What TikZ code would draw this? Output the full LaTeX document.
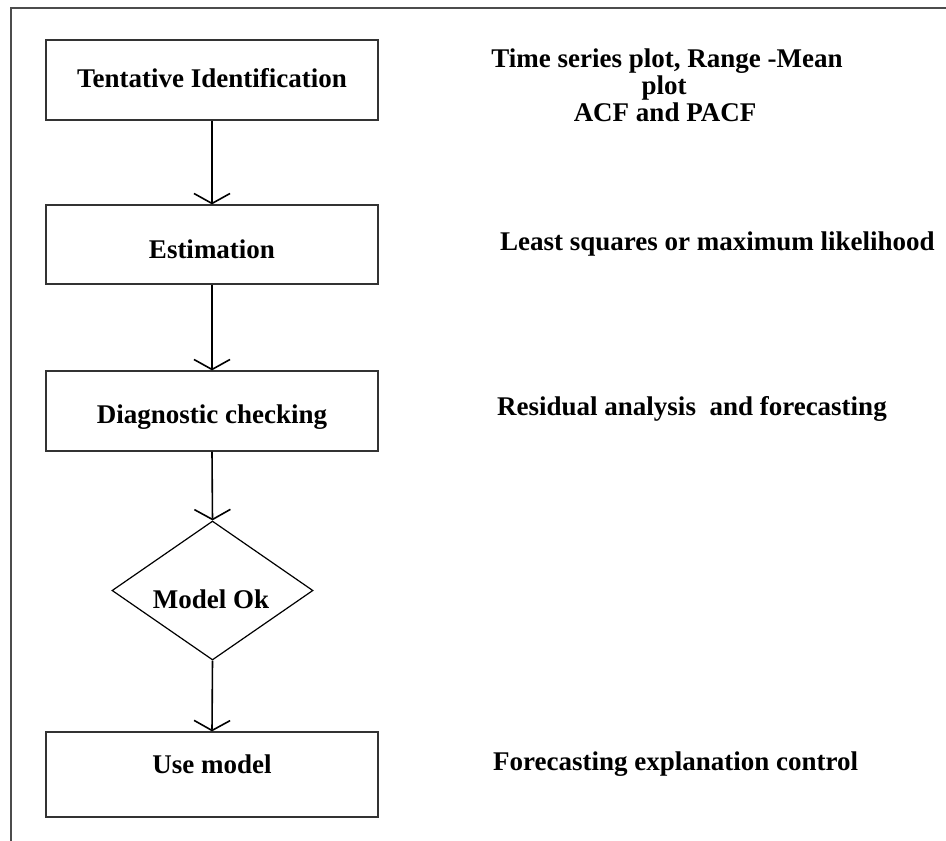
\documentclass[tikz,border=0pt]{standalone}
\usepackage{fontspec}
\setmainfont{Liberation Serif}
\usetikzlibrary{shapes.geometric,arrows.meta}
\begin{document}
\begin{tikzpicture}[x=1pt,y=-1pt,
  every node/.style={font=\fontsize{27}{27.5}\selectfont\bfseries},
  box/.style={draw=black!80,line width=1.2pt,rectangle,minimum width=332pt,inner sep=0pt},
  decision/.style={draw=black,line width=1.2pt,diamond,minimum width=201pt,minimum height=139pt,inner sep=0pt},
  lbl/.style={anchor=base,inner sep=0pt},
  note/.style={anchor=base west,inner sep=0pt},
  flow/.style={line width=1.6pt,-{Straight Barb[length=10pt,width=36pt]}},
  frameline/.style={draw=black!70,line width=1.2pt}]
  % page size
  \useasboundingbox (0,0) rectangle (946,841);
  % frame along the top and left edges
  \coordinate (fTL) at (11,8);
  \coordinate (fTR) at (946,8);
  \coordinate (fBL) at (11,841);
  \draw[frameline] (fTR) -- (fTL) -- (fBL);

  % flow chart boxes
  \node[box,minimum height=80pt] (tent) at (212,80) {};
  \node[box,minimum height=79pt] (est) at (212,244.5) {};
  \node[box,minimum height=80pt] (diag) at (212,411) {};
  \node[decision] (ok) at (212.5,590.5) {};
  \node[box,minimum height=85pt] (use) at (212,774.5) {};

  % box captions
  \node[lbl] (tentT) at (212,87) {Tentative Identification};
  \node[lbl] (estT) at (212,258) {Estimation};
  \node[lbl] (diagT) at (212,423) {Diagnostic checking};
  \node[lbl] (okT) at (211,608) {Model Ok};
  \node[lbl] (useT) at (212,773) {Use model};

  % connectors
  \draw[flow] (tent.south) -- (est.north);
  \draw[flow] (est.south) -- (diag.north);
  \draw[flow] (diag.south) -- (ok.north);
  \draw[flow] (ok.south) -- (use.north);

  % notes on the right
  \node[lbl] (n1a) at (667,67) {Time series plot, Range -Mean};
  \node[lbl] (n1b) at (664,94) {plot};
  \node[lbl] (n1c) at (665,121) {ACF and PACF};
  \node[note] (n2) at (500,250) {Least squares or maximum likelihood};
  \node[note] (n3) at (497,415) {Residual analysis\ \ and forecasting};
  \node[note] (n4) at (493,770) {Forecasting explanation control};
\end{tikzpicture}
\end{document}
